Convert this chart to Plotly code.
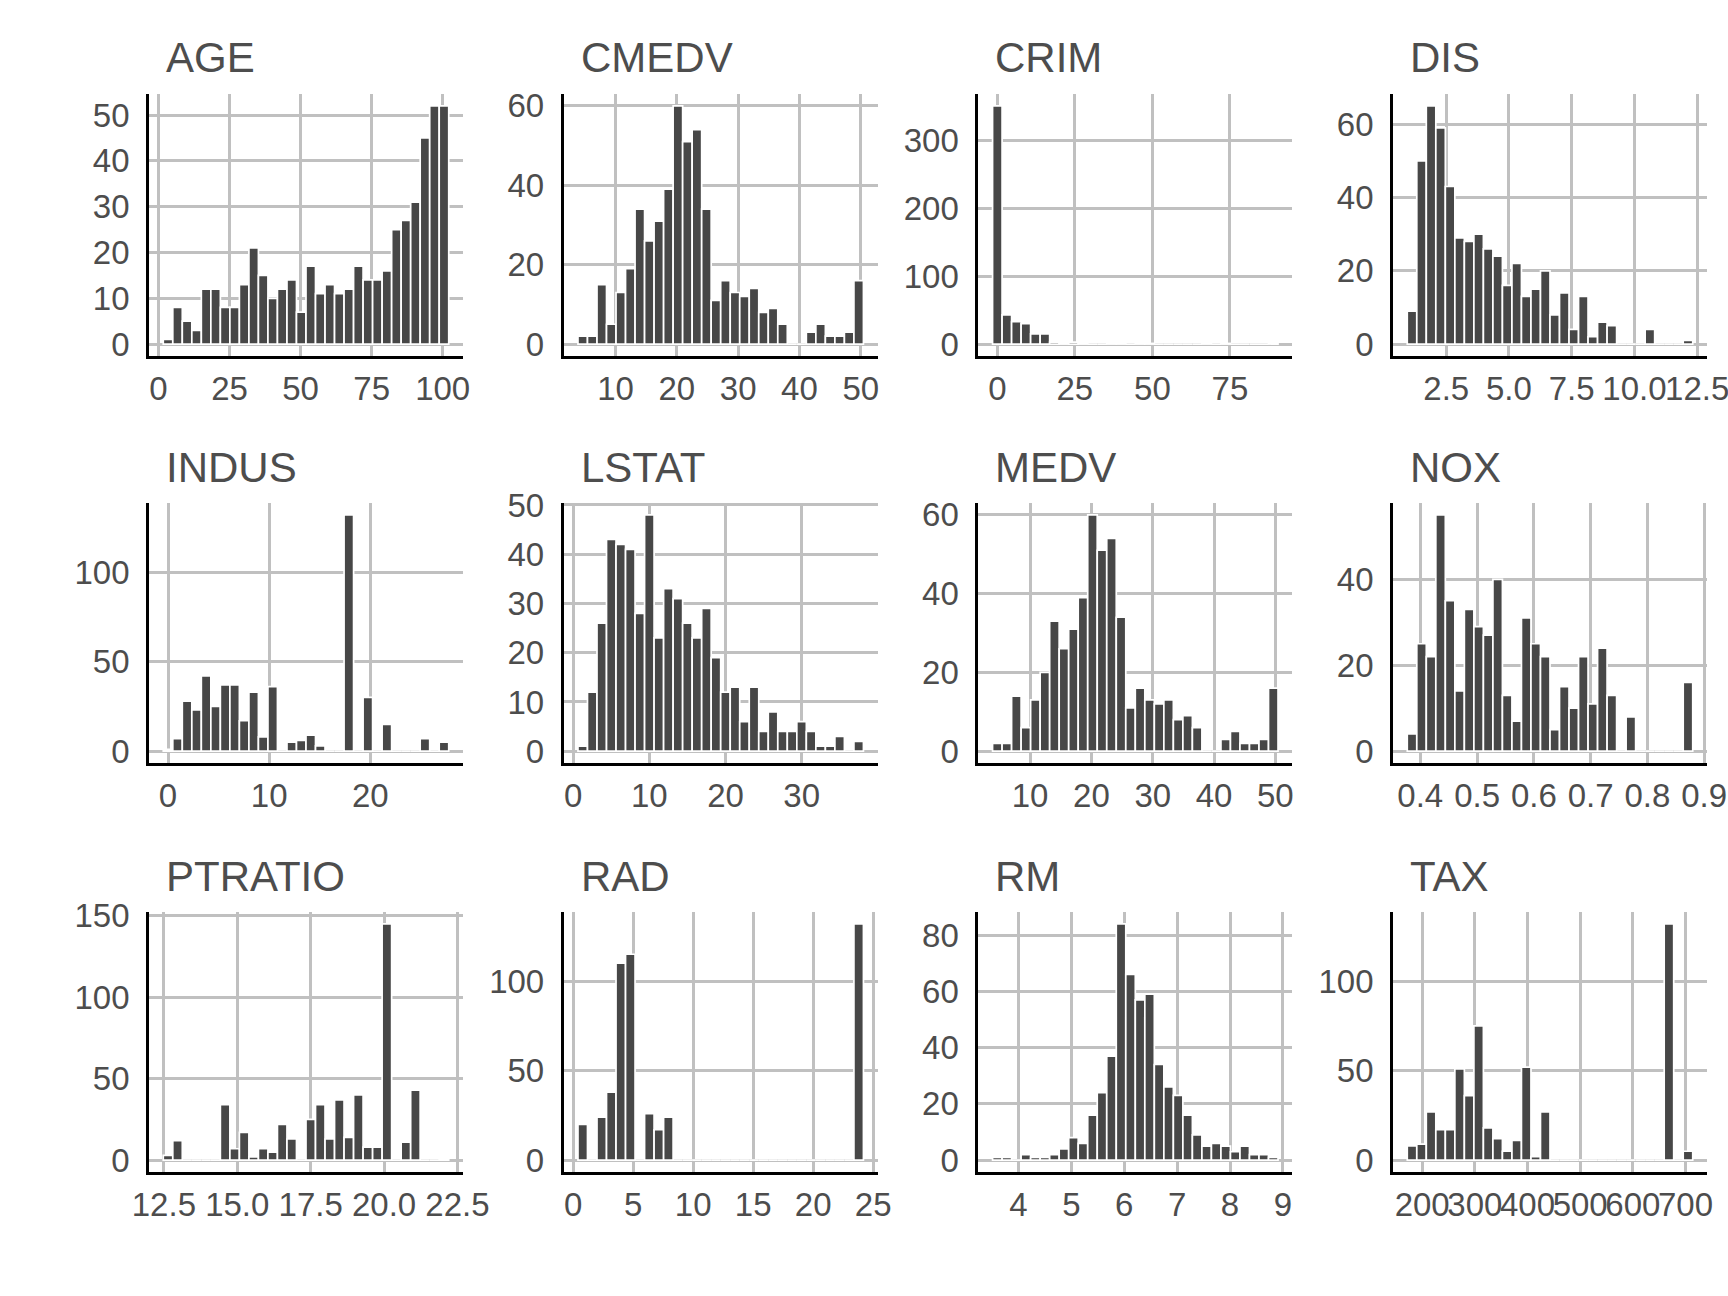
import numpy as np
import plotly.graph_objects as go

# ---------------- data (histogram counts, 30 bins each) ----------------
variables = ["AGE", "CMEDV", "CRIM", "DIS", "INDUS", "LSTAT",
             "MEDV", "NOX", "PTRATIO", "RAD", "RM", "TAX"]

age_counts = [1, 8, 5, 3, 12, 12, 8, 8, 13, 21, 15, 10, 12, 14, 7, 17, 11, 13, 11, 12,
              17, 14, 14, 16, 25, 27, 31, 45, 52, 52]
cmedv_counts = [2, 2, 15, 5, 13, 19, 34, 26, 31, 39, 60, 51, 54, 34, 11, 16, 13, 12, 14, 8,
                9, 5, 0, 0, 3, 5, 2, 2, 3, 16]
crim_counts = [351, 43, 33, 30, 15, 15, 3, 2, 3, 1, 0, 0, 2, 1, 0, 1, 1, 0, 0, 0,
               0, 0, 1, 0, 1, 0, 0, 0, 0, 1]
dis_counts = [9, 50, 65, 59, 43, 29, 28, 30, 26, 24, 16, 22, 13, 15, 20, 8, 14, 4, 13, 2,
              6, 5, 0, 0, 0, 4, 0, 0, 0, 1]
indus_counts = [1, 7, 28, 23, 42, 25, 37, 37, 17, 33, 8, 36, 0, 5, 6, 9, 3, 0, 0, 132,
                0, 30, 0, 15, 0, 0, 0, 7, 0, 5]
lstat_counts = [1, 12, 26, 43, 42, 41, 28, 48, 23, 33, 31, 26, 23, 29, 19, 12, 13, 6, 13, 4,
                8, 4, 4, 6, 4, 1, 1, 3, 0, 2]
medv_counts = [2, 2, 14, 6, 13, 20, 33, 26, 31, 39, 60, 51, 54, 34, 11, 16, 13, 12, 13, 8,
               9, 6, 0, 0, 3, 5, 2, 2, 3, 16]
nox_counts = [4, 25, 22, 55, 35, 14, 33, 29, 27, 40, 13, 7, 31, 25, 22, 5, 15, 10, 22, 11,
              24, 13, 0, 8, 0, 0, 0, 0, 0, 16]
ptratio_counts = [3, 12, 0, 0, 0, 0, 34, 7, 17, 2, 7, 5, 22, 13, 0, 25, 34, 13, 37, 14,
                  40, 8, 8, 145, 0, 11, 43, 0, 0, 1]
rad_counts = [20, 0, 24, 38, 110, 115, 0, 26, 17, 24, 0, 0, 0, 0, 0, 0, 0, 0, 0, 0,
              0, 0, 0, 0, 0, 0, 0, 0, 0, 132]
rm_counts = [1, 1, 0, 2, 1, 1, 2, 4, 8, 6, 16, 24, 37, 84, 66, 57, 59, 34, 26, 23,
             16, 9, 5, 6, 5, 3, 5, 2, 2, 1]
tax_counts = [8, 9, 27, 17, 17, 51, 36, 75, 18, 12, 5, 11, 52, 2, 27, 0, 0, 0, 0, 0,
              0, 0, 0, 0, 0, 0, 0, 132, 0, 5]

# data ranges (min, max) of each variable -> define the 30 histogram bins
age_range = (2.9, 100.0)
cmedv_range = (5.0, 50.0)
crim_range = (0.00632, 88.9762)
dis_range = (1.1296, 12.1265)
indus_range = (0.46, 27.74)
lstat_range = (1.73, 37.97)
medv_range = (5.0, 50.0)
nox_range = (0.385, 0.871)
ptratio_range = (12.6, 22.0)
rad_range = (1.0, 24.0)
rm_range = (3.561, 8.78)
tax_range = (187.0, 711.0)

# axis ticks
age_xticks, age_xlabels = [0, 25, 50, 75, 100], ["0", "25", "50", "75", "100"]
cmedv_xticks, cmedv_xlabels = [10, 20, 30, 40, 50], ["10", "20", "30", "40", "50"]
crim_xticks, crim_xlabels = [0, 25, 50, 75], ["0", "25", "50", "75"]
dis_xticks, dis_xlabels = [2.5, 5, 7.5, 10, 12.5], ["2.5", "5.0", "7.5", "10.0", "12.5"]
indus_xticks, indus_xlabels = [0, 10, 20], ["0", "10", "20"]
lstat_xticks, lstat_xlabels = [0, 10, 20, 30], ["0", "10", "20", "30"]
medv_xticks, medv_xlabels = [10, 20, 30, 40, 50], ["10", "20", "30", "40", "50"]
nox_xticks, nox_xlabels = [0.4, 0.5, 0.6, 0.7, 0.8, 0.9], ["0.4", "0.5", "0.6", "0.7", "0.8", "0.9"]
ptratio_xticks, ptratio_xlabels = [12.5, 15, 17.5, 20, 22.5], ["12.5", "15.0", "17.5", "20.0", "22.5"]
rad_xticks, rad_xlabels = [0, 5, 10, 15, 20, 25], ["0", "5", "10", "15", "20", "25"]
rm_xticks, rm_xlabels = [4, 5, 6, 7, 8, 9], ["4", "5", "6", "7", "8", "9"]
tax_xticks, tax_xlabels = [200, 300, 400, 500, 600, 700], ["200", "300", "400", "500", "600", "700"]

age_yticks = [0, 10, 20, 30, 40, 50]
cmedv_yticks = [0, 20, 40, 60]
crim_yticks = [0, 100, 200, 300]
dis_yticks = [0, 20, 40, 60]
indus_yticks = [0, 50, 100]
lstat_yticks = [0, 10, 20, 30, 40, 50]
medv_yticks = [0, 20, 40, 60]
nox_yticks = [0, 20, 40]
ptratio_yticks = [0, 50, 100, 150]
rad_yticks = [0, 50, 100]
rm_yticks = [0, 20, 40, 60, 80]
tax_yticks = [0, 50, 100]

panels = {
    "AGE": (age_counts, age_range, age_xticks, age_xlabels, age_yticks),
    "CMEDV": (cmedv_counts, cmedv_range, cmedv_xticks, cmedv_xlabels, cmedv_yticks),
    "CRIM": (crim_counts, crim_range, crim_xticks, crim_xlabels, crim_yticks),
    "DIS": (dis_counts, dis_range, dis_xticks, dis_xlabels, dis_yticks),
    "INDUS": (indus_counts, indus_range, indus_xticks, indus_xlabels, indus_yticks),
    "LSTAT": (lstat_counts, lstat_range, lstat_xticks, lstat_xlabels, lstat_yticks),
    "MEDV": (medv_counts, medv_range, medv_xticks, medv_xlabels, medv_yticks),
    "NOX": (nox_counts, nox_range, nox_xticks, nox_xlabels, nox_yticks),
    "PTRATIO": (ptratio_counts, ptratio_range, ptratio_xticks, ptratio_xlabels, ptratio_yticks),
    "RAD": (rad_counts, rad_range, rad_xticks, rad_xlabels, rad_yticks),
    "RM": (rm_counts, rm_range, rm_xticks, rm_xlabels, rm_yticks),
    "TAX": (tax_counts, tax_range, tax_xticks, tax_xlabels, tax_yticks),
}

# ---------------- layout / style ----------------
W, H = 1728, 1296
col_left = [149, 563.7, 978.3, 1393]
panel_w = 314
row_top = [94, 503, 912]
row_bottom = [356, 763, 1172]

FONT = "Liberation Sans, Arial, Helvetica, sans-serif"
TXT = "#4D4D4D"
GRID = "#C0C0C0"
BAR = "#474747"

fig = go.Figure()
layout = dict(
    width=W, height=H, margin=dict(l=0, r=0, t=0, b=0, pad=0, autoexpand=False),
    paper_bgcolor="white", plot_bgcolor="white", showlegend=False,
    font=dict(family=FONT, color=TXT),
    annotations=[],
)


def ggplot_bins(vmin, vmax, nbins):
    # ggplot2 bins = 30 : width = range/(bins-1), boundary = width/2
    w = (vmax - vmin) / 29.0
    shift = np.floor((vmin - w / 2.0) / w)
    origin = w / 2.0 + shift * w
    centers = origin + w / 2.0 + w * np.arange(nbins)
    return centers, w


for i, var in enumerate(variables):
    counts, (vmin, vmax), xt, xl, yt = panels[var]
    r, c = divmod(i, 4)
    k = i + 1
    centers, w = ggplot_bins(vmin, vmax, len(counts))
    counts = np.asarray(counts)

    fig.add_trace(go.Bar(
        x=centers, y=counts, width=w,
        marker=dict(color=BAR, line=dict(color="white", width=1.7)),
        xaxis=f"x{k}", yaxis=f"y{k}", hoverinfo="x+y",
    ))

    lo = centers[0] - w / 2
    hi = centers[-1] + w / 2
    span = hi - lo
    ymax = counts.max()

    x0 = col_left[c] / W
    x1 = (col_left[c] + panel_w) / W
    y0 = 1 - row_bottom[r] / H
    y1 = 1 - row_top[r] / H

    common = dict(
        showgrid=True, gridcolor=GRID, gridwidth=2.6,
        showline=True, linecolor="black", linewidth=2.8,
        zeroline=False, ticks="", tickmode="array",
        tickfont=dict(size=33, color=TXT, family=FONT),
        ticklabeloverflow="allow", automargin=False, tickangle=0,
    )
    layout[f"xaxis{k}"] = dict(
        common, domain=[x0, x1], anchor=f"y{k}",
        range=[lo - 0.05 * span, hi + 0.05 * span],
        tickvals=xt, ticktext=xl, ticklabelstandoff=1,
    )
    layout[f"yaxis{k}"] = dict(
        common, domain=[y0, y1], anchor=f"x{k}",
        range=[-0.05 * ymax, 1.05 * ymax],
        tickvals=yt, ticktext=[str(v) for v in yt], ticklabelstandoff=10,
    )
    layout["annotations"].append(dict(
        text=var, xref="paper", yref="paper",
        x=(col_left[c] + 15) / W, y=1 - (row_top[r] - 36) / H,
        xanchor="left", yanchor="middle", showarrow=False,
        font=dict(size=42, color=TXT, family=FONT),
    ))

fig.update_layout(**layout)
fig.write_html("out.html")
